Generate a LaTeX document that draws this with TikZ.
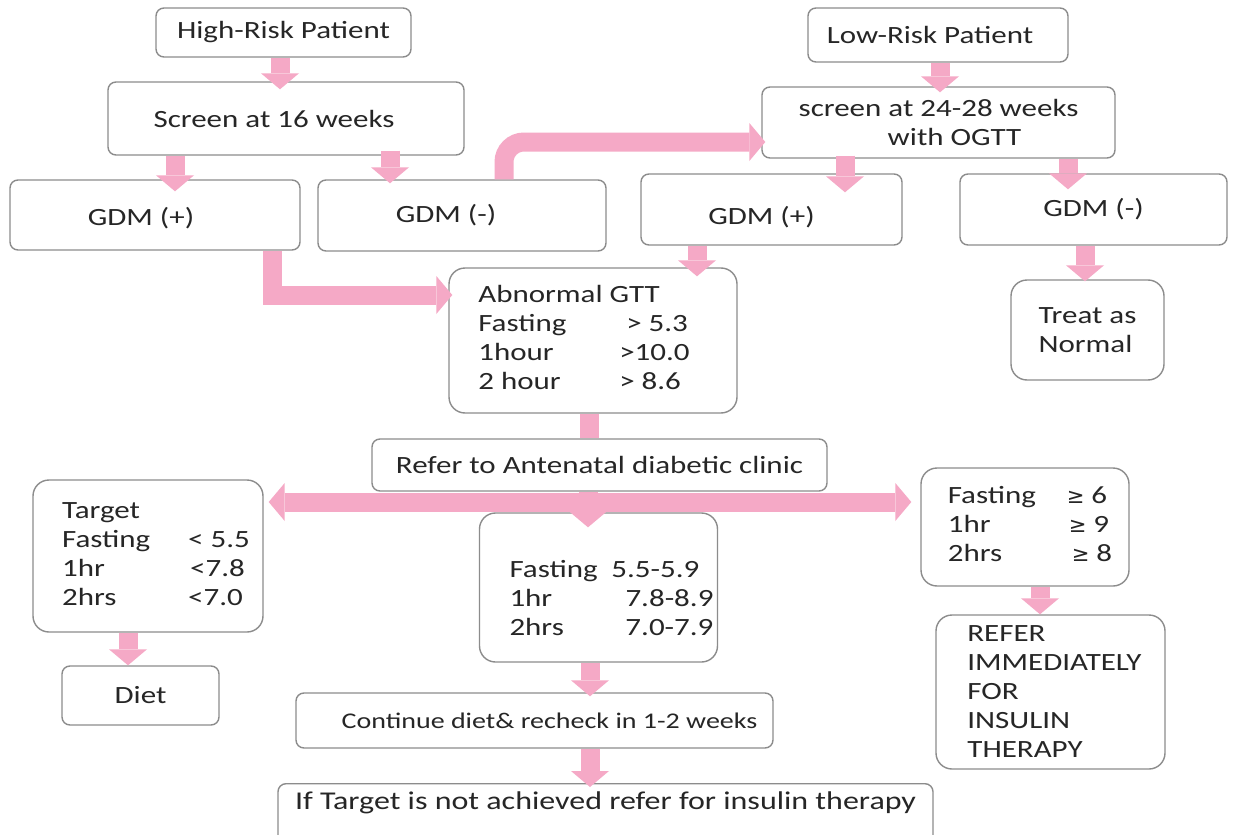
\documentclass[tikz,border=0pt]{standalone}
\usepackage{fontspec}
\setmainfont{Carlito}[FakeStretch=1.25]
\newfontfamily\symfont{DejaVu Sans}[Scale=0.85]
\usetikzlibrary{arrows.meta,calc}
\definecolor{gdPink}{HTML}{F5A9C6}
\definecolor{gdLine}{HTML}{8C8C8C}
\definecolor{gdInk}{HTML}{262626}
\newcommand{\geqText}{{\symfont ≥}}
\newcommand{\padRight}[1]{\hspace{#1}\mbox{}}
\tikzset{
  flowBox/.style={draw=gdLine,line width=0.7pt,rounded corners=4pt,fill=white,text=gdInk,inner sep=2pt,
    font=\fontsize{12.4}{14.5}\selectfont},
  bigBox/.style={flowBox,rounded corners=8pt},
  pinkArrow/.style={draw=gdPink,line width=9.5pt,>={Triangle[width=19pt,length=8pt,line width=0pt]},->}
}
\begin{document}
\begin{tikzpicture}[x=0.5pt,y=-0.5pt]
  \fill[white] (0,0) rectangle (1233,835);
  \useasboundingbox (0,0) rectangle (1233,835);

  \node[flowBox,minimum width=127.5pt,minimum height=24.5pt] (hr) at (283.5,32.5) {High-Risk Patient};
  \node[flowBox,minimum width=178pt,minimum height=36.5pt] (scr16) at (286,118.5) {Screen at 16 weeks\padRight{12pt}};
  \node[flowBox,minimum width=145pt,minimum height=35pt] (gpl) at (155,215) {\raisebox{-1.5pt}[\height][\depth]{GDM (+)}\padRight{14pt}};
  \node[flowBox,minimum width=144pt,minimum height=35.5pt] (gmn) at (462,215.5) {GDM (-)\padRight{16pt}};
  \node[flowBox,minimum width=130pt,minimum height=27pt] (lr) at (938,35) {Low-Risk Patient\padRight{8pt}};
  \node[flowBox,minimum width=176.5pt,minimum height=35.5pt,align=center] (scr24) at (938.5,122.5)
    {screen at 24-28 weeks\\\hspace{16pt}with OGTT};
  \node[flowBox,minimum width=130.5pt,minimum height=35.5pt] (gpr) at (771.5,209.5) {\raisebox{-4pt}[\height][\depth]{GDM (+)}\padRight{10pt}};
  \node[flowBox,minimum width=133.5pt,minimum height=35.5pt] (gmr) at (1093.5,209.5) {GDM (-)};
  \node[bigBox,minimum width=76.5pt,minimum height=50pt,align=left] (tan) at (1087.5,330) {Treat as\\Normal};
  \node[bigBox,minimum width=144pt,minimum height=72.5pt] (gtt) at (593,340.5)
    {\begin{tabular}{@{}p{70.5pt}@{}l@{}}
      \multicolumn{2}{@{}l@{}}{Abnormal GTT}\\
      Fasting & \hspace{3.5pt}> 5.3\\
      1hour & >10.0\\
      2 hour & > 8.6
    \end{tabular}\padRight{9pt}};
  \node[flowBox,minimum width=227.5pt,minimum height=26pt] (ref) at (599.5,465) {Refer to Antenatal diabetic clinic};
  \node[bigBox,minimum width=115pt,minimum height=76pt] (tgt) at (148,556)
    {\hspace{8pt}\begin{tabular}{@{}p{63pt}@{}l@{}}
      Target & \\
      Fasting & < 5.5\\
      1hr & \hspace{1pt}<7.8\\
      2hrs & <7.0
    \end{tabular}};
  \node[flowBox,minimum width=78.5pt,minimum height=29.5pt] (diet) at (140.5,695.5) {Diet};
  \node[bigBox,minimum width=114.5pt,minimum height=74.5pt] (mid) at (598.5,587.5)
    {\hspace{13pt}\raisebox{-6.5pt}[\height][\depth]{\begin{tabular}{@{}p{51pt}@{}l@{}}
      Fasting & 5.5-5.9\\
      1hr & \hspace{7pt}7.8-8.9\\
      2hrs & \hspace{7pt}7.0-7.9
    \end{tabular}}};
  \node[bigBox,minimum width=104pt,minimum height=59pt] (hi) at (1025,527)
    {\hspace{5pt}\begin{tabular}{@{}p{59.5pt}@{}l@{}}
      Fasting & \geqText\ 6\\
      1hr & \hspace{1pt}\geqText\ 9\\
      2hrs & \hspace{2.5pt}\geqText\ 8
    \end{tabular}};
  \node[bigBox,minimum width=114.5pt,minimum height=77pt,align=left] (ins) at (1050.5,692)
    {\hspace{4pt}REFER\\\hspace{4pt}IMMEDIATELY\\\hspace{4pt}FOR\\\hspace{4pt}INSULIN\\\hspace{4pt}THERAPY};
  \node[flowBox,minimum width=238.5pt,minimum height=27.5pt,font=\fontsize{11.2}{13}\selectfont] (cont) at (534.5,720.5)
    {\hspace{15pt}Continue diet\& recheck in 1-2 weeks};
  \node[flowBox,minimum width=327.5pt,text height=12pt,text depth=18pt,inner ysep=1pt,anchor=north,
    font=\fontsize{12.8}{15}\selectfont] (ift) at (605.5,783)
    {If Target is not achieved refer for insulin therapy};

  \draw[pinkArrow] ($(hr.south)+(-3.5,0)$) -- ($(scr16.north)+(-6,8)$);
  \draw[pinkArrow] ($(scr16.south)+(-111,0)$) -- ($(gpl.north)+(20,12)$);
  \draw[pinkArrow] ($(scr16.south)+(104,-5)$) -- ($(gmn.north)+(-72,4)$);
  \draw[pinkArrow,rounded corners=10pt] ($(gmn.north)+(42,0)$) |- ($(scr24.west)+(4,19.5)$);
  \draw[pinkArrow] ($(lr.south)+(2,0)$) -- ($(scr24.north)+(1.5,6)$);
  \draw[pinkArrow] ($(scr24.south)+(-93.5,-3)$) -- ($(gpr.north)+(73.5,19)$);
  \draw[pinkArrow] ($(scr24.south)+(129.5,0)$) -- ($(gmr.north)+(-25.5,16)$);
  \draw[pinkArrow] ($(gmr.south)+(-8.5,0)$) -- ($(tan.north)+(-2.5,2)$);
  \draw[pinkArrow] ($(gpr.south)+(-74.5,0)$) -- ($(gtt.north)+(104,9)$);
  \draw[pinkArrow,line join=miter] ($(gpl.south)+(117,0)$) |- ($(gtt.west)+(4,-45.5)$);
  \draw[pinkArrow,-] ($(gtt.south)+(-4,0)$) -- ($(ref.north)+(-10.5,0)$);
  \draw[pinkArrow,<->] ($(tgt.east)+(5,-54)$) -- ($(hi.west)+(-9,-25)$);
  \draw[pinkArrow] ($(ref.south)+(-11.5,0)$) -- ($(mid.north)+(-10.5,15)$);
  \draw[pinkArrow] ($(tgt.south)+(-20,0)$) -- ($(diet.north)+(-12.5,0)$);
  \draw[pinkArrow] ($(hi.south)+(15,0)$) -- ($(ins.north)+(-10.5,0)$);
  \draw[pinkArrow] ($(mid.south)+(-8.5,0)$) -- ($(cont.north)+(55.5,4)$);
  \draw[pinkArrow] ($(cont.south)+(55.5,0)$) -- ($(ift.north)+(-15.5,4)$);
\end{tikzpicture}
\end{document}
